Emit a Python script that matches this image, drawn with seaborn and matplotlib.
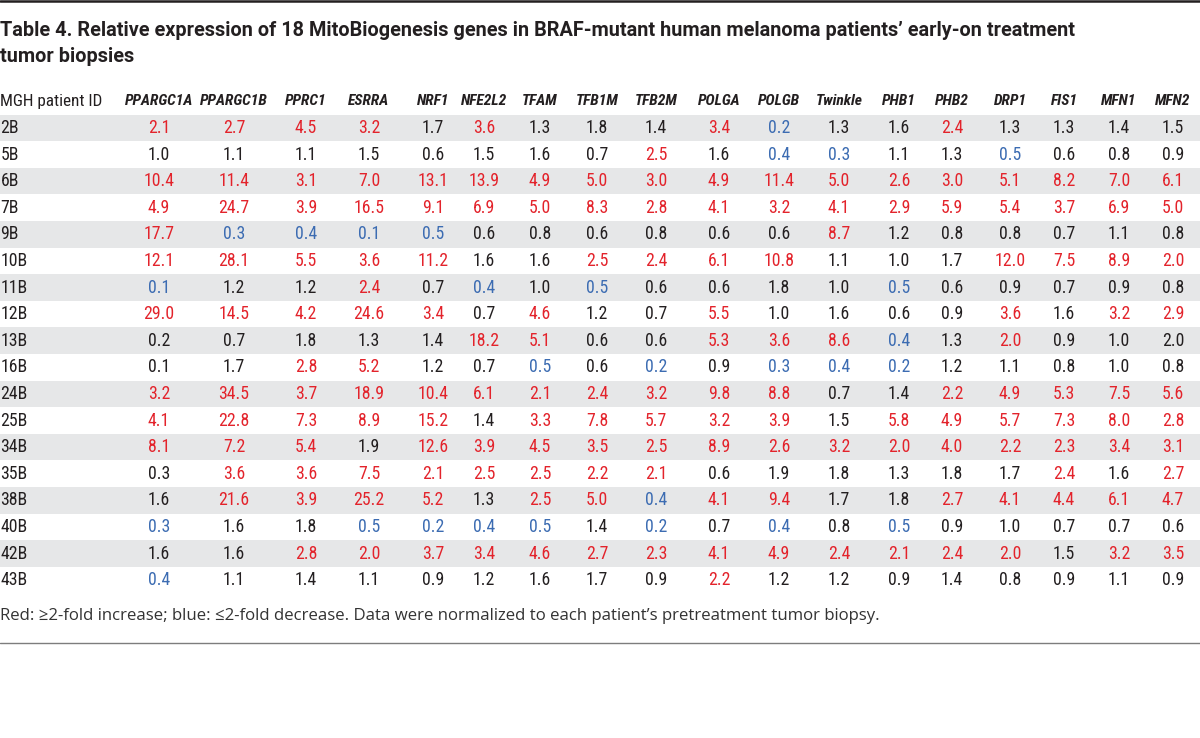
import numpy as np
import pandas as pd
import matplotlib
matplotlib.use('Agg')
import matplotlib.pyplot as plt
import seaborn as sns
from matplotlib import font_manager
from matplotlib.colors import ListedColormap

# ---- table content ----
title_1 = "Table 4. Relative expression of 18 MitoBiogenesis genes in BRAF-mutant human melanoma patients\u2019 early-on treatment"
title_2 = "tumor biopsies"
footnote = ("Red: \u22652-fold increase; blue: \u22642-fold decrease. "
            "Data were normalized to each patient\u2019s pretreatment tumor biopsy.")
id_header = "MGH patient ID"

genes = ['PPARGC1A', 'PPARGC1B', 'PPRC1', 'ESRRA', 'NRF1', 'NFE2L2', 'TFAM', 'TFB1M', 'TFB2M',
         'POLGA', 'POLGB', 'Twinkle', 'PHB1', 'PHB2', 'DRP1', 'FIS1', 'MFN1', 'MFN2']
patients = ['2B', '5B', '6B', '7B', '9B', '10B', '11B', '12B', '13B', '16B',
            '24B', '25B', '34B', '35B', '38B', '40B', '42B', '43B']

values = [
    [2.1, 2.7, 4.5, 3.2, 1.7, 3.6, 1.3, 1.8, 1.4, 3.4, 0.2, 1.3, 1.6, 2.4, 1.3, 1.3, 1.4, 1.5],
    [1.0, 1.1, 1.1, 1.5, 0.6, 1.5, 1.6, 0.7, 2.5, 1.6, 0.4, 0.3, 1.1, 1.3, 0.5, 0.6, 0.8, 0.9],
    [10.4, 11.4, 3.1, 7.0, 13.1, 13.9, 4.9, 5.0, 3.0, 4.9, 11.4, 5.0, 2.6, 3.0, 5.1, 8.2, 7.0, 6.1],
    [4.9, 24.7, 3.9, 16.5, 9.1, 6.9, 5.0, 8.3, 2.8, 4.1, 3.2, 4.1, 2.9, 5.9, 5.4, 3.7, 6.9, 5.0],
    [17.7, 0.3, 0.4, 0.1, 0.5, 0.6, 0.8, 0.6, 0.8, 0.6, 0.6, 8.7, 1.2, 0.8, 0.8, 0.7, 1.1, 0.8],
    [12.1, 28.1, 5.5, 3.6, 11.2, 1.6, 1.6, 2.5, 2.4, 6.1, 10.8, 1.1, 1.0, 1.7, 12.0, 7.5, 8.9, 2.0],
    [0.1, 1.2, 1.2, 2.4, 0.7, 0.4, 1.0, 0.5, 0.6, 0.6, 1.8, 1.0, 0.5, 0.6, 0.9, 0.7, 0.9, 0.8],
    [29.0, 14.5, 4.2, 24.6, 3.4, 0.7, 4.6, 1.2, 0.7, 5.5, 1.0, 1.6, 0.6, 0.9, 3.6, 1.6, 3.2, 2.9],
    [0.2, 0.7, 1.8, 1.3, 1.4, 18.2, 5.1, 0.6, 0.6, 5.3, 3.6, 8.6, 0.4, 1.3, 2.0, 0.9, 1.0, 2.0],
    [0.1, 1.7, 2.8, 5.2, 1.2, 0.7, 0.5, 0.6, 0.2, 0.9, 0.3, 0.4, 0.2, 1.2, 1.1, 0.8, 1.0, 0.8],
    [3.2, 34.5, 3.7, 18.9, 10.4, 6.1, 2.1, 2.4, 3.2, 9.8, 8.8, 0.7, 1.4, 2.2, 4.9, 5.3, 7.5, 5.6],
    [4.1, 22.8, 7.3, 8.9, 15.2, 1.4, 3.3, 7.8, 5.7, 3.2, 3.9, 1.5, 5.8, 4.9, 5.7, 7.3, 8.0, 2.8],
    [8.1, 7.2, 5.4, 1.9, 12.6, 3.9, 4.5, 3.5, 2.5, 8.9, 2.6, 3.2, 2.0, 4.0, 2.2, 2.3, 3.4, 3.1],
    [0.3, 3.6, 3.6, 7.5, 2.1, 2.5, 2.5, 2.2, 2.1, 0.6, 1.9, 1.8, 1.3, 1.8, 1.7, 2.4, 1.6, 2.7],
    [1.6, 21.6, 3.9, 25.2, 5.2, 1.3, 2.5, 5.0, 0.4, 4.1, 9.4, 1.7, 1.8, 2.7, 4.1, 4.4, 6.1, 4.7],
    [0.3, 1.6, 1.8, 0.5, 0.2, 0.4, 0.5, 1.4, 0.2, 0.7, 0.4, 0.8, 0.5, 0.9, 1.0, 0.7, 0.7, 0.6],
    [1.6, 1.6, 2.8, 2.0, 3.7, 3.4, 4.6, 2.7, 2.3, 4.1, 4.9, 2.4, 2.1, 2.4, 2.0, 1.5, 3.2, 3.5],
    [0.4, 1.1, 1.4, 1.1, 0.9, 1.2, 1.6, 1.7, 0.9, 2.2, 1.2, 1.2, 0.9, 1.4, 0.8, 0.9, 1.1, 0.9],
]

# r = increase (red), b = decrease (blue), k = unchanged, as printed in the table
marks = [
    'rrrrkrkkkrbkkrkkkk',
    'kkkkkkkkrkbbkkbkkk',
    'rrrrrrrrrrrrrrrrrr',
    'rrrrrrrrrrrrrrrrrr',
    'rbbbbkkkkkkrkkkkkk',
    'rrrrrkkrrrrkkkrrrr',
    'bkkrkbkbkkkkbkkkkk',
    'rrrrrkrkkrkkkkrkrr',
    'kkkkkrrkkrrrbkrkkk',
    'kkrrkkbkbkbbbkkkkk',
    'rrrrrrrrrrrkkrrrrr',
    'rrrrrkrrrrrkrrrrrr',
    'rrrkrrrrrrrrrrrrrr',
    'krrrrrrrrkkkkkkrkr',
    'krrrrkrrbrrkkrrrrr',
    'bkkbbbbkbkbkbkkkkk',
    'kkrrrrrrrrrrrrrkrr',
    'bkkkkkkkkrkkkkkkkk',
]

# ---- layout / style ----
W, H = 1200, 738
col_x = [159, 234, 306, 369, 433, 484, 540, 597, 656, 719, 779, 839, 899, 952, 1010, 1064, 1119, 1173]
row_top, row_h = 114.7, 26.6
ink = '#231f20'
palette = {'r': '#e3232b', 'b': '#3c6cb2', 'k': ink}
stripe = '#e6e7e8'
body_size = 12.8

sns.set_style('white')
available = {f.name for f in font_manager.fontManager.ttflist}
narrow = next((f for f in ['Liberation Sans Narrow', 'Roboto Condensed', 'Open Sans Condensed',
                           'Noto Sans Condensed', 'DejaVu Sans Condensed'] if f in available), 'Roboto')
plt.rcParams['font.family'] = [narrow, 'DejaVu Sans']

fig = plt.figure(figsize=(W / 100, H / 100), dpi=100)
renderer = fig.canvas.get_renderer()


def fit_width(t, width_px):
    w = t.get_window_extent(renderer).width
    t.set_fontsize(t.get_fontsize() * width_px / w)


n = len(patients)
ax = fig.add_axes([0, 1 - (row_top + n * row_h) / H, 1, n * row_h / H])
bands = pd.DataFrame({'band': [1 - i % 2 for i in range(n)]}, index=patients)
sns.heatmap(bands, ax=ax, cmap=ListedColormap(['white', stripe]), vmin=0, vmax=1,
            cbar=False, xticklabels=False, yticklabels=False)
ax.set_axis_off()
yt = ax.get_yaxis_transform()

# header row
t = ax.text(0.5 / W, -0.5, id_header, transform=yt, ha='left', va='center',
            color=ink, fontsize=12, fontstretch='condensed')
fit_width(t, 102)
heads = []
for g, x in zip(genes, col_x):
    heads.append(ax.text(x / W, -0.5, g, transform=yt, ha='center', va='center', color=ink,
                         fontsize=12, style='italic', fontweight='bold', fontstretch='condensed'))
fit_width(heads[0], 68)
for h in heads[1:]:
    h.set_fontsize(heads[0].get_fontsize())

# body
for i, (pid, row, mk) in enumerate(zip(patients, values, marks)):
    ax.text(0.5 / W, i + 0.5, pid, transform=yt, ha='left', va='center',
            color=ink, fontsize=body_size, fontstretch='condensed')
    for x, v, m in zip(col_x, row, mk):
        ax.text(x / W, i + 0.5, f'{v:.1f}', transform=yt, ha='center', va='center',
                color=palette[m], fontsize=body_size, fontstretch='condensed')

# title, footnote, rules
t1 = fig.text(0.5 / W, 1 - 30 / H, title_1, ha='left', va='center', color=ink,
              fontsize=14, fontweight='bold', family=['Roboto', 'DejaVu Sans'])
fit_width(t1, 1077)
fig.text(0.5 / W, 1 - 57 / H, title_2, ha='left', va='center', color=ink,
         fontsize=t1.get_fontsize(), fontweight='bold', family=['Roboto', 'DejaVu Sans'])
fn = fig.text(0.5 / W, 1 - 616 / H, footnote, ha='left', va='center', color='#333333',
              fontsize=12, family=['Open Sans', 'DejaVu Sans'])
fit_width(fn, 874)

fig.add_artist(plt.Line2D([0, 1], [1 - 1.2 / H] * 2, color=ink, linewidth=1.8))
fig.add_artist(plt.Line2D([0, 1], [1 - 643 / H] * 2, color='#7d7d7d', linewidth=1.0))

fig.savefig('out.png', dpi=100)
